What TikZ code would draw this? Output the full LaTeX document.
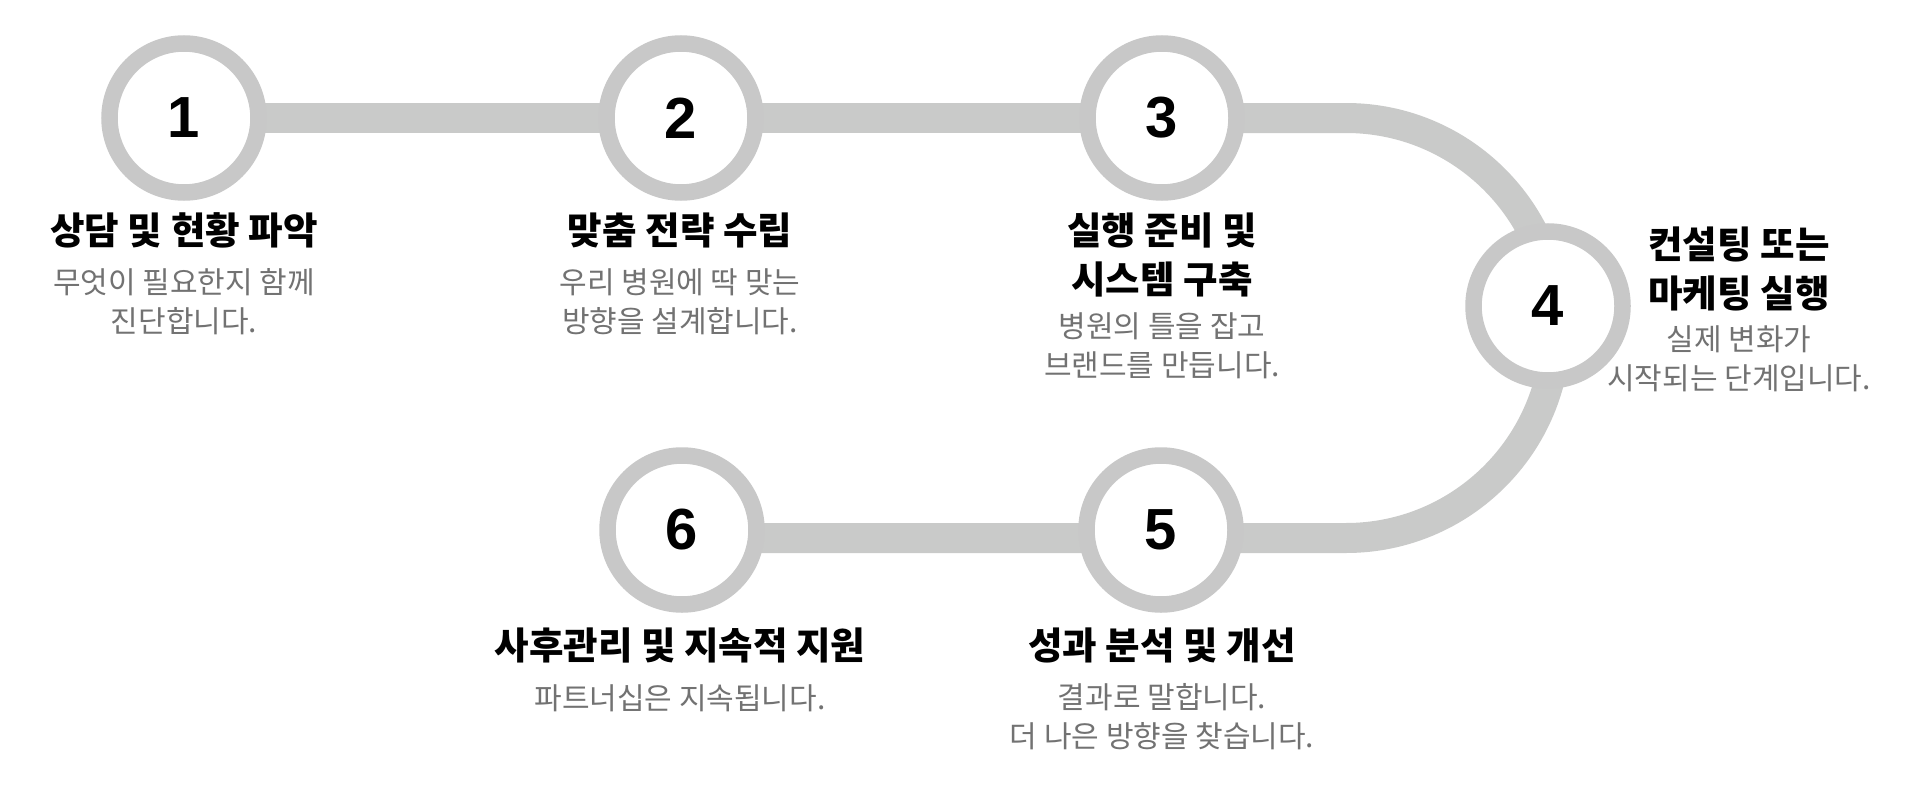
\documentclass[tikz,border=0pt]{standalone}
\usepackage{fontspec}
\setmainfont{Noto Sans CJK KR}
\newfontfamily\digitfont{Liberation Sans}
\definecolor{trackgray}{HTML}{C9CAC9}
\definecolor{ringgray}{HTML}{C8C8C8}
\definecolor{subgray}{HTML}{727272}
\pgfdeclarelayer{trk}
\pgfsetlayers{trk,main}
\begin{document}
\begin{tikzpicture}[x=1pt,y=-1pt,
  stepcircle/.style={circle, draw=ringgray, line width=16.5pt, fill=white, minimum size=149pt, inner sep=0pt, font=\digitfont\fontsize{58}{58}\selectfont\bfseries},
  titletext/.style={font=\fontsize{37.5}{49}\selectfont\bfseries, align=center, text=black},
  subtext/.style={font=\fontsize{30}{39}\selectfont, align=center, text=subgray},
  trackline/.style={draw=trackgray, line width=30pt}]
\useasboundingbox (0,0) rectangle (1920,800);
\node[stepcircle] (c1) at (184,118) {1};
\node[stepcircle] (c2) at (681,118) {2};
\node[stepcircle] (c3) at (1162,118) {3};
\node[stepcircle] (c4) at (1548,306) {4};
\node[stepcircle] (c5) at (1161,530) {5};
\node[stepcircle] (c6) at (682,530) {6};
\coordinate (a1) at (1346,118);
\coordinate (a2) at (1346,538);
\begin{pgfonlayer}{trk}
\fill[white] (0,0) rectangle (1920,800);
\draw[trackline] (c1.center) -- (c2.center);
\draw[trackline] (c2.center) -- (c3.center);
\draw[trackline] (c3.center) -- (a1) arc[start angle=-90, end angle=90, radius=210] -- (c5.center |- a2) -- (c6.center |- a2);
\end{pgfonlayer}
\node[titletext] (t1) at (184,230) {상담 및 현황 파악};
\node[subtext] (s1) at (184,302) {무엇이 필요한지 함께\\진단합니다.};
\node[titletext] (t2) at (680,230) {맞춤 전략 수립};
\node[subtext] (s2) at (680,302) {우리 병원에 딱 맞는\\방향을 설계합니다.};
\node[titletext] (t3) at (1162,254.5) {실행 준비 및\\시스템 구축};
\node[subtext] (s3) at (1162,346) {병원의 틀을 잡고\\브랜드를 만듭니다.};
\node[titletext] (t4) at (1739,269) {컨설팅 또는\\마케팅 실행};
\node[subtext] (s4) at (1739,359) {실제 변화가\\시작되는 단계입니다.};
\node[titletext] (t5) at (1162,645) {성과 분석 및 개선};
\node[subtext] (s5) at (1162,717) {결과로 말합니다.\\더 나은 방향을 찾습니다.};
\node[titletext] (t6) at (680,645) {사후관리 및 지속적 지원};
\node[subtext] (s6) at (680,698) {파트너십은 지속됩니다.};
\end{tikzpicture}
\end{document}
